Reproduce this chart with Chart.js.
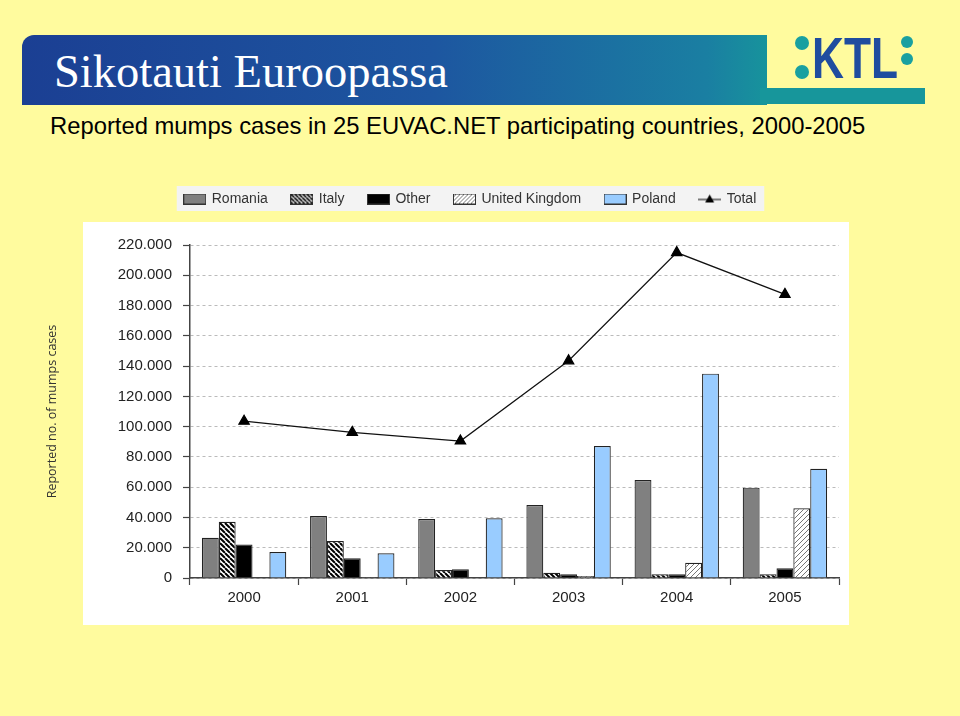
<!DOCTYPE html>
<html>
<head>
<meta charset="utf-8">
<script src="https://cdn.jsdelivr.net/npm/chart.js@4/dist/chart.umd.min.js"></script>
<style>
body { margin: 0; width: 960px; height: 716px; overflow: hidden; position: relative; background: #fffb9e; font-family: "Liberation Sans", Arial, sans-serif; }
#banner { position: absolute; left: 22px; top: 35px; width: 745px; height: 70px; border-top-left-radius: 12px;
  background: linear-gradient(to right, #1b3f93 0%, #1d56a0 55%, #1a7fa2 92%, #17939c 100%); }
#strip { position: absolute; left: 760px; top: 88px; width: 165px; height: 16px; background: #17969b; }
#title { position: absolute; left: 54px; top: 45px; color: #fff; font-family: "Liberation Serif", "Times New Roman", serif; font-size: 46.5px; white-space: nowrap; }
#sub { position: absolute; left: 50px; top: 112px; color: #000; font-size: 23.8px; white-space: nowrap; }
#logo { position: absolute; left: 785px; top: 28px; }
#wrap { position: absolute; left: 40px; top: 168px; width: 861px; height: 460px; }
</style>
</head>
<body>
<div id="banner"></div>
<div id="strip"></div>
<div id="title">Sikotauti Euroopassa</div>
<div id="sub">Reported mumps cases in 25 EUVAC.NET participating countries, 2000-2005</div>
<svg id="logo" width="150" height="60">
  <circle cx="17" cy="15" r="7" fill="#19a0a0"/>
  <circle cx="17" cy="44" r="7" fill="#19a0a0"/>
  <circle cx="122" cy="14" r="6" fill="#19a0a0"/>
  <circle cx="122" cy="31" r="6" fill="#19a0a0"/>
  <text x="27" y="50" font-family="Liberation Sans, Arial" font-weight="bold" font-size="58" fill="#1f4c9f" textLength="86" lengthAdjust="spacingAndGlyphs">KTL</text>
</svg>
<div id="wrap"><canvas id="chart" width="861" height="460"></canvas></div>
<script>
var years = ['2000', '2001', '2002', '2003', '2004', '2005'];
var romania = [26600, 41000, 39000, 48200, 64700, 59700];
var italy = [37200, 24400, 5300, 3500, 2400, 2400];
var other = [22200, 13000, 5700, 2400, 2400, 6400];
var uk = [300, 500, 300, 1300, 10100, 46000];
var poland = [17200, 16300, 39400, 87200, 135000, 72200];
var total = [103600, 96200, 90500, 143500, 215000, 187400];
var yTicks = [0, 20000, 40000, 60000, 80000, 100000, 120000, 140000, 160000, 180000, 200000, 220000];

function hatch(dir, color, width, size) {
    var c = document.createElement('canvas');
    c.width = size; c.height = size;
    var x = c.getContext('2d');
    x.fillStyle = '#fff';
    x.fillRect(0, 0, size, size);
    x.strokeStyle = color;
    x.lineWidth = width;
    x.beginPath();
    for (var k = -1; k <= 1; k++) {
        if (dir === 'back') {
            x.moveTo(k * size, 0); x.lineTo(k * size + size, size);
        } else {
            x.moveTo(k * size, size); x.lineTo(k * size + size, 0);
        }
    }
    x.stroke();
    return x.createPattern(c, 'repeat');
}

var ctx = document.getElementById('chart').getContext('2d');
var italyFill = hatch('back', '#000', 2, 5);
var ukFill = hatch('fwd', '#777', 1, 5);

function boxIcon(fill) {
    var c = document.createElement('canvas');
    c.width = 23; c.height = 11;
    var x = c.getContext('2d');
    x.fillStyle = fill;
    x.fillRect(0, 0, 23, 11);
    x.strokeStyle = '#333';
    x.lineWidth = 1;
    x.strokeRect(0.5, 0.5, 22, 10);
    return c;
}
function lineIcon() {
    var c = document.createElement('canvas');
    c.width = 23; c.height = 11;
    var x = c.getContext('2d');
    x.strokeStyle = '#000';
    x.lineWidth = 1;
    x.beginPath(); x.moveTo(0, 6); x.lineTo(23, 6); x.stroke();
    x.fillStyle = '#000';
    x.beginPath(); x.moveTo(11.5, 1); x.lineTo(16, 9); x.lineTo(7, 9); x.closePath(); x.fill();
    return c;
}
var icons = [boxIcon('#808080'), boxIcon(hatch('back', '#000', 1.6, 4)), boxIcon('#000'),
             boxIcon(hatch('fwd', '#777', 1, 4)), boxIcon('#99ccff'), lineIcon()];

var backdrop = {
    id: 'backdrop',
    beforeDraw: function(chart) {
        var c = chart.ctx;
        c.save();
        c.fillStyle = '#fff';
        c.fillRect(43, 54, 766, 403);
        var hb = chart.legend.legendHitBoxes;
        if (hb && hb.length) {
            var l = hb[0].left, r = hb[hb.length - 1].left + hb[hb.length - 1].width;
            c.fillStyle = '#f3f3f3';
            c.fillRect(l - 8, hb[0].top - 6, r - l + 16, 25);
        }
        c.restore();
    },
    beforeInit: function(chart) {
        var fit = chart.legend.fit;
        chart.legend.fit = function() {
            fit.call(this);
            this.height = 77;
        };
    }
};

var bar = function(label, data, fill) {
    return { type: 'bar', label: label, data: data, backgroundColor: fill, borderColor: '#222',
             borderWidth: 1.2, barPercentage: 1, categoryPercentage: 0.78, order: 1 };
};

new Chart(ctx, {
    data: {
        labels: years,
        datasets: [
            bar('Romania', romania, '#808080'),
            bar('Italy', italy, italyFill),
            bar('Other', other, '#000'),
            bar('United Kingdom', uk, ukFill),
            bar('Poland', poland, '#99ccff'),
            { type: 'line', label: 'Total', data: total, borderColor: '#111', borderWidth: 1.2,
              pointStyle: 'triangle', pointRadius: 6, pointBackgroundColor: '#000', pointBorderColor: '#000',
              tension: 0, order: 0 }
        ]
    },
    options: {
        responsive: false,
        animation: false,
        layout: { padding: { left: 62, right: 62, top: 0, bottom: 17 } },
        plugins: {
            tooltip: { enabled: false },
            legend: {
                position: 'top',
                labels: {
                    usePointStyle: true,
                    pointStyleWidth: 20,
                    padding: 24,
                    color: '#333',
                    font: { family: 'Liberation Sans', size: 14 },
                    generateLabels: function(chart) {
                        var items = Chart.defaults.plugins.legend.labels.generateLabels(chart);
                        items.sort(function(a, b) { return a.datasetIndex - b.datasetIndex; });
                        items.forEach(function(it) { it.pointStyle = icons[it.datasetIndex]; });
                        return items;
                    }
                }
            }
        },
        scales: {
            x: {
                grid: { offset: true, drawOnChartArea: false, drawTicks: true, tickLength: 7, tickColor: '#444', tickWidth: 1.2 },
                border: { color: '#444', width: 1.5 },
                ticks: { color: '#222', font: { family: 'Liberation Sans', size: 15 }, padding: 4 }
            },
            y: {
                min: 0,
                max: 220000,
                afterBuildTicks: function(s) { s.ticks = yTicks.map(function(v) { return { value: v }; }); },
                afterFit: function(s) { s.width = 88; },
                ticks: {
                    color: '#222',
                    font: { family: 'Liberation Sans', size: 15 },
                    padding: 11,
                    callback: function(v) { return v === 0 ? '0' : (v / 1000) + '.000'; }
                },
                grid: { color: '#bbb', lineWidth: 1, tickLength: 7, tickColor: '#444', tickWidth: 1.2, tickBorderDash: [], tickBorderDashOffset: 0 },
                border: { color: '#444', width: 1.5, dash: [3, 3] },
                title: {
                    display: true,
                    text: 'Reported no. of mumps cases',
                    color: '#333',
                    font: { family: 'Open Sans', size: 12.5 },
                    padding: { top: -57, bottom: 0 }
                }
            }
        }
    },
    plugins: [backdrop]
});
</script>
</body>
</html>
